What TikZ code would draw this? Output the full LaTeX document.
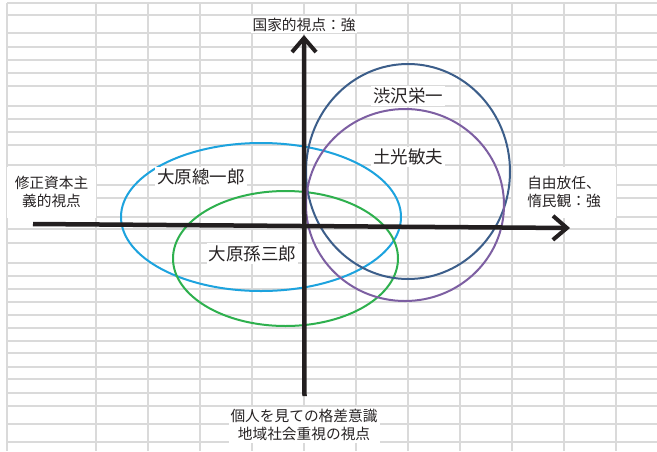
\documentclass[tikz,border=0pt]{standalone}
\usepackage{fontspec}
\setmainfont{Noto Sans CJK JP}
\usetikzlibrary{arrows.meta}
\definecolor{gridc}{RGB}{218,218,218}
\definecolor{axisc}{RGB}{35,31,32}
\definecolor{txtc}{RGB}{40,36,37}
\definecolor{cblue}{RGB}{29,163,222}
\definecolor{cgreen}{RGB}{46,176,78}
\definecolor{cnavy}{RGB}{60,94,138}
\definecolor{cpurple}{RGB}{125,95,162}
\tikzset{
  x=1pt, y=-1pt,
  gridline/.style={draw=gridc, line width=1.4pt},
  axlab/.style={fill=white, text=txtc, inner sep=2pt, align=center,
    font=\fontsize{14.7}{18}\selectfont},
  namelab/.style={fill=white, text=txtc, inner sep=2pt,
    font=\fontsize{17.5}{20}\selectfont},
  ring/.style={line width=2pt},
  axisline/.style={draw=axisc, line width=4.5pt,
    -{Straight Barb[length=14pt,width=24pt,line width=4pt]}},
}
\begin{document}
\begin{tikzpicture}
\useasboundingbox[fill=white] (0,0) rectangle (657,451);
% spreadsheet grid
\foreach \gx in {7,96,148,200,252,304,356,408,460,512,564,616}
  \draw[gridline] (\gx,3) -- (\gx,451);
\foreach \gy in {3,15,33,47,60,73,86,106,119,132,145,165,185,198,217,229,243,263,276,289,302,315,328,341,353,367,379,393,406,424,442}
  \draw[gridline] (7,\gy) -- (657,\gy);
% axis labels (merged cells)
\node[axlab] (top) at (304,24.5) {国家的視点：強};
\node[axlab, minimum width=89pt, minimum height=51pt] (left) at (51.5,192) {修正資本主\\義的視点};
\node[axlab, minimum width=103pt, minimum height=51pt] (right) at (564,192) {自由放任、\\惰民観：強};
\node[axlab, minimum height=36pt] (bottom) at (304,425) {個人を見ての格差意識\\地域社会重視の視点};
% ellipses
\draw[ring, cblue] (261,217) ellipse [x radius=140pt, y radius=74pt];
\draw[ring, cgreen] (285.5,258.5) ellipse [x radius=112.5pt, y radius=67.5pt];
\draw[ring, cnavy] (408,171.5) ellipse [x radius=102pt, y radius=107.5pt];
\draw[ring, cpurple] (405,205) ellipse [x radius=99pt, y radius=96pt];
% names
\node[namelab] (soichiro) at (201,177) {大原總一郎};
\node[namelab] (magosaburo) at (252.5,253.5) {大原孫三郎};
\node[namelab] (shibusawa) at (408,96) {渋沢栄一};
\node[namelab] (doko) at (408,157) {土光敏夫};
% axes
\coordinate (xs) at (33,224);
\coordinate (xe) at (570,228);
\coordinate (ys) at (304.5,396);
\coordinate (ye) at (304,35);
\draw[axisline] (xs) -- (xe);
\draw[axisline] (ys) -- (ye);
\end{tikzpicture}
\end{document}
